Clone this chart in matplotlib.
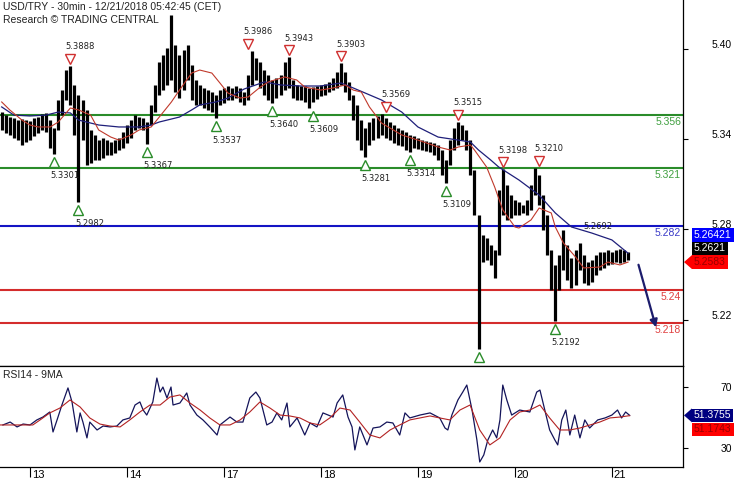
import numpy as np
import matplotlib
matplotlib.use('Agg')
import matplotlib.pyplot as plt
from matplotlib.transforms import offset_copy, ScaledTranslation
from matplotlib.patches import Polygon

# --- dados (precos, barras de 1h, horas de pregao a partir de 13/12 00:00) ---
bar_hi = [5.3579, 5.3559, 5.3546, 5.3540, 5.3526, 5.3533, 5.3526, 5.3520, 5.3540, 5.3546,
          5.3566, 5.3573, 5.3526, 5.3473, 5.3659, 5.3725, 5.3858, 5.3888, 5.3759, 5.3692,
          5.3659, 5.3593, 5.3460, 5.3427, 5.3393, 5.3407, 5.3393, 5.3380, 5.3393, 5.3407,
          5.3447, 5.3493, 5.3526, 5.3559, 5.3546, 5.3540, 5.3513, 5.3626, 5.3759, 5.3911,
          5.3958, 5.4004, 5.4223, 5.4024, 5.3958, 5.3991, 5.4024, 5.3891, 5.3792, 5.3759,
          5.3739, 5.3725, 5.3712, 5.3692, 5.3725, 5.3739, 5.3752, 5.3739, 5.3752, 5.3739,
          5.3712, 5.3825, 5.3986, 5.3938, 5.3911, 5.3858, 5.3825, 5.3792, 5.3805, 5.3825,
          5.3911, 5.3943, 5.3792, 5.3759, 5.3752, 5.3752, 5.3739, 5.3745, 5.3752, 5.3759,
          5.3765, 5.3779, 5.3805, 5.3845, 5.3903, 5.3845, 5.3779, 5.3692, 5.3626, 5.3526,
          5.3473, 5.3513, 5.3540, 5.3553, 5.3569, 5.3540, 5.3513, 5.3493, 5.3473, 5.3460,
          5.3447, 5.3427, 5.3420, 5.3407, 5.3393, 5.3387, 5.3380, 5.3374, 5.3360, 5.3327,
          5.3261, 5.3393, 5.3473, 5.3515, 5.3493, 5.3460, 5.3393, 5.3194, 5.2896, 5.2763,
          5.2743, 5.2697, 5.2663, 5.3062, 5.3198, 5.3095, 5.3028, 5.2995, 5.2982, 5.2962,
          5.2995, 5.3095, 5.3210, 5.3161, 5.3028, 5.2896, 5.2663, 5.2564, 5.2630, 5.2796,
          5.2697, 5.2610, 5.2663, 5.2710, 5.2630, 5.2583, 5.2597, 5.2630, 5.2650, 5.2650,
          5.2663, 5.2650, 5.2663, 5.2670, 5.2663, 5.2650]
bar_lo = [5.3460, 5.3440, 5.3427, 5.3407, 5.3393, 5.3360, 5.3380, 5.3393, 5.3420, 5.3440,
          5.3460, 5.3447, 5.3340, 5.3301, 5.3460, 5.3559, 5.3659, 5.3626, 5.3427, 5.2982,
          5.3393, 5.3227, 5.3241, 5.3261, 5.3261, 5.3274, 5.3294, 5.3294, 5.3307, 5.3327,
          5.3340, 5.3374, 5.3407, 5.3460, 5.3473, 5.3460, 5.3367, 5.3493, 5.3579, 5.3692,
          5.3725, 5.3759, 5.3792, 5.3712, 5.3672, 5.3725, 5.3792, 5.3659, 5.3626, 5.3626,
          5.3606, 5.3593, 5.3579, 5.3537, 5.3626, 5.3639, 5.3659, 5.3659, 5.3672, 5.3646,
          5.3626, 5.3659, 5.3759, 5.3792, 5.3739, 5.3692, 5.3659, 5.3640, 5.3672, 5.3692,
          5.3725, 5.3739, 5.3672, 5.3659, 5.3659, 5.3646, 5.3609, 5.3646, 5.3666, 5.3686,
          5.3692, 5.3712, 5.3725, 5.3739, 5.3759, 5.3712, 5.3659, 5.3526, 5.3393, 5.3327,
          5.3281, 5.3360, 5.3393, 5.3407, 5.3427, 5.3407, 5.3393, 5.3374, 5.3360, 5.3354,
          5.3327, 5.3314, 5.3340, 5.3334, 5.3327, 5.3320, 5.3314, 5.3294, 5.3261, 5.3161,
          5.3109, 5.3227, 5.3327, 5.3360, 5.3393, 5.3327, 5.3161, 5.2896, 5.2006, 5.2583,
          5.2597, 5.2564, 5.2477, 5.2630, 5.2896, 5.2863, 5.2876, 5.2896, 5.2896, 5.2909,
          5.2896, 5.2929, 5.3028, 5.2962, 5.2796, 5.2630, 5.2398, 5.2192, 5.2398, 5.2531,
          5.2464, 5.2411, 5.2431, 5.2531, 5.2444, 5.2431, 5.2451, 5.2497, 5.2531, 5.2544,
          5.2564, 5.2570, 5.2583, 5.2577, 5.2583, 5.2597]
bar_hours = np.arange(-7, -7 + len(bar_hi))

# medias moveis
ma_red_h = [-7, -5, -2, 0, 2, 5, 7, 10, 12, 15, 17, 20, 22, 25, 27, 30, 32, 35, 37, 40,
            42, 45, 47, 49, 52, 54, 57, 59, 63, 66, 68, 72, 75, 78, 80, 82, 84, 87, 92, 96,
            101, 104, 106, 109, 110, 113, 115, 117, 120, 121, 124, 126, 129, 130, 132, 135,
            137, 141, 143, 146, 148]
ma_red = [5.3646, 5.3593, 5.3526, 5.3493, 5.3480, 5.3480, 5.3513, 5.3606, 5.3593, 5.3559,
          5.3460, 5.3413, 5.3393, 5.3427, 5.3460, 5.3480, 5.3546, 5.3646, 5.3725, 5.3838,
          5.3858, 5.3838, 5.3772, 5.3705, 5.3672, 5.3679, 5.3745, 5.3779, 5.3812, 5.3792,
          5.3745, 5.3725, 5.3739, 5.3759, 5.3725, 5.3712, 5.3613, 5.3506, 5.3427, 5.3393,
          5.3347, 5.3327, 5.3347, 5.3360, 5.3327, 5.3214, 5.3081, 5.2929, 5.2816, 5.2809,
          5.2863, 5.2942, 5.2909, 5.2816, 5.2710, 5.2617, 5.2544, 5.2550, 5.2583, 5.2564,
          5.2583]
ma_blue_h = [-7, -4, 0, 4, 7, 10, 12, 17, 22, 27, 30, 32, 37, 40, 42, 46, 49, 53, 58, 62,
             67, 72, 77, 80, 87, 92, 96, 101, 106, 109, 111, 114, 116, 121, 126, 130, 134,
             139, 144, 148]
ma_blue = [5.3613, 5.3559, 5.3553, 5.3559, 5.3579, 5.3573, 5.3526, 5.3493, 5.3480, 5.3480,
           5.3493, 5.3513, 5.3546, 5.3593, 5.3626, 5.3646, 5.3672, 5.3732, 5.3779, 5.3759,
           5.3752, 5.3752, 5.3772, 5.3739, 5.3659, 5.3579, 5.3480, 5.3413, 5.3393, 5.3380,
           5.3327, 5.3261, 5.3214, 5.3128, 5.3028, 5.2909, 5.2816, 5.2776, 5.2730, 5.2642]

# RSI14 e media de 9
rsi_h = [-6.7, -4.9, -3.2, -1.7, 0, 1.7, 3.2, 4.9, 5.7, 6.7, 7.9, 9.4, 10.4, 11.6, 12.4,
         13.1, 14.1, 14.8, 16.6, 18.1, 19.8, 21.5, 23.0, 24.7, 26.0, 27.2, 28.0, 28.9, 30.4,
         31.4, 32.2, 32.9, 33.9, 34.9, 35.4, 37.1, 38.8, 39.6, 41.3, 42.8, 44.5, 46.3, 47.0,
         49.5, 51.2, 52.7, 54.4, 55.9, 56.9, 58.6, 59.9, 61.1, 62.3, 63.6, 64.3, 66.1, 68.0,
         69.3, 71.0, 72.5, 75.0, 76.0, 77.4, 78.7, 79.7, 80.4, 81.6, 83.4, 84.9, 86.6, 88.3,
         89.8, 91.5, 92.8, 94.0, 96.5, 99.0, 101.4, 102.7, 103.4, 104.4, 105.9, 107.1, 108.1,
         109.4, 110.6, 111.3, 112.3, 113.3, 114.5, 115.5, 116.3, 117.0, 118.0, 119.2, 121.2,
         123.7, 125.4, 126.2, 127.4, 128.6, 129.9, 130.6, 131.6, 132.6, 133.6, 134.8, 136.1,
         137.3, 138.5, 140.5, 142.3, 144.0, 145.4, 146.4, 147.4, 148.4]
rsi = [45.1, 47.0, 43.8, 45.7, 45.1, 48.4, 50.3, 53.6, 40.5, 48.4, 58.2, 69.4, 60.2, 40.5,
       53.0, 47.0, 36.6, 47.0, 41.8, 44.4, 43.8, 44.4, 48.4, 49.7, 58.2, 60.2, 54.9, 51.6,
       60.2, 75.9, 66.7, 70.0, 62.8, 70.0, 58.2, 59.5, 66.1, 58.2, 51.6, 48.4, 43.8, 38.5,
       45.1, 50.3, 47.0, 47.0, 62.8, 66.7, 62.8, 45.1, 47.0, 53.0, 48.4, 59.5, 43.8, 49.7,
       38.5, 46.4, 43.8, 53.0, 50.3, 59.5, 64.8, 50.3, 43.8, 28.7, 43.8, 32.0, 43.1, 43.8,
       47.0, 46.4, 38.5, 53.0, 49.7, 51.6, 53.0, 49.7, 43.1, 41.8, 51.6, 61.5, 66.7, 71.3,
       54.9, 35.2, 20.8, 25.4, 35.2, 41.8, 36.6, 48.4, 71.3, 61.5, 51.6, 54.9, 53.6, 66.7,
       68.0, 54.9, 41.8, 35.2, 32.0, 48.4, 54.9, 38.5, 51.6, 36.6, 48.4, 43.1, 48.4, 49.7,
       51.6, 54.9, 49.7, 53.6, 51.4]
rsi_ma_h = [-7.4, 0.7, 2.5, 4.9, 7.4, 9.9, 12.4, 14.8, 17.3, 19.8, 22.3, 24.7, 27.2, 29.7,
            32.2, 34.6, 37.1, 39.6, 42.1, 44.5, 47.0, 49.5, 52.0, 54.4, 56.9, 59.4, 61.9,
            64.3, 66.8, 69.3, 71.7, 74.2, 76.7, 79.2, 81.6, 84.1, 86.6, 89.1, 91.5, 94.0,
            96.5, 99.0, 101.4, 103.9, 106.4, 108.9, 111.3, 113.8, 116.3, 118.8, 121.2, 123.7,
            126.2, 128.6, 131.1, 133.6, 136.1, 138.6, 141.0, 143.5, 146.0, 148.4]
rsi_ma = [45.1, 45.1, 48.4, 53.0, 56.2, 61.5, 56.9, 49.7, 45.7, 44.4, 43.8, 48.4, 53.6, 58.2,
          58.2, 63.4, 64.8, 59.5, 54.9, 49.7, 45.1, 45.1, 48.4, 53.6, 60.2, 56.2, 51.6, 51.0,
          49.7, 46.4, 45.1, 49.7, 56.2, 54.9, 47.0, 38.5, 36.6, 41.8, 45.1, 48.4, 49.7, 51.0,
          49.7, 48.4, 54.9, 58.2, 41.8, 32.0, 36.6, 48.4, 53.6, 54.9, 58.2, 49.7, 41.8, 41.8,
          43.1, 45.1, 47.0, 49.7, 50.3, 51.2]

# topos e fundos marcados
tops_h = [10, 54, 64, 77, 88, 106, 117, 126]
tops = [5.3888, 5.3986, 5.3943, 5.3903, 5.3569, 5.3515, 5.3198, 5.3210]
bottoms_h = [6, 12, 29, 46, 60, 70, 83, 94, 103, 111, 130]
bottoms = [5.3301, 5.2982, 5.3367, 5.3537, 5.3640, 5.3609, 5.3281, 5.3314, 5.3109, 5.2006, 5.2192]
bottom_labels = ['5.3301', '5.2982', '5.3367', '5.3537', '5.3640', '5.3609', '5.3281',
                 '5.3314', '5.3109', '', '5.2192']
extra_top_h, extra_top = 138, 5.2692

# niveis horizontais
levels = [5.356, 5.321, 5.282, 5.24, 5.218]
level_labels = ['5.356', '5.321', '5.282', '5.24', '5.218']
level_colors = ['#2a8c2a', '#2a8c2a', '#1414c4', '#d42c2c', '#d42c2c']
level_text_colors = ['#3f9f3f', '#3f9f3f', '#3a3ac8', '#e04040', '#e04040']

# seta de projecao
seta_h = [150.4, 155.1]
seta_p = [5.2583, 5.2132]

days = [0, 24, 48, 72, 96, 120, 144]
day_labels = ['13', '14', '17', '18', '19', '20', '21']

W, H = 735, 480
fig = plt.figure(figsize=(W / 100, H / 100), dpi=100)
ax = fig.add_axes([0, 1 - 366 / H, 683 / W, 366 / H])
ax2 = fig.add_axes([0, 1 - 467 / H, 683 / W, 101 / H])

xmin, xmax = -7.42, 161.6
ax.set_xlim(xmin, xmax)
ax.set_ylim(5.1893, 5.4323)
ax2.set_xlim(xmin, xmax)
ax2.set_ylim(17.5, 83.8)

# niveis
for v, lab, c, tc in zip(levels, level_labels, level_colors, level_text_colors):
    ax.axhline(v, color=c, lw=1.5, zorder=1)
    ax.annotate(lab, xy=(1, v), xycoords=('axes fraction', 'data'), xytext=(-2, -7),
                textcoords='offset pixels', ha='right', va='center', color=tc,
                fontsize=7.5, family='Liberation Sans')

# barras
ax.vlines(bar_hours, bar_lo, bar_hi, color='black', lw=2.3, zorder=3)
ax.plot(ma_blue_h, ma_blue, color='#1f1f7a', lw=0.9, zorder=4)
ax.plot(ma_red_h, ma_red, color='#c0392b', lw=0.8, zorder=4)

# marcadores
up = offset_copy(ax.transData, fig=fig, x=0, y=7, units='dots')
up_t = offset_copy(ax.transData, fig=fig, x=10, y=19, units='dots')
dn = offset_copy(ax.transData, fig=fig, x=0, y=-8, units='dots')
dn_t = offset_copy(ax.transData, fig=fig, x=11, y=-22, units='dots')
ax.plot(tops_h, tops, ls='none', marker='v', ms=6.5, mfc='white', mec='#d03030', mew=1,
        transform=up, zorder=5)
for h, p in zip(tops_h, tops):
    ax.text(h, p, '%.4f' % p, transform=up_t, ha='center', va='center', fontsize=6,
            color='#222222', zorder=6)
ax.text(extra_top_h, extra_top, '%.4f' % extra_top, transform=up_t, ha='center',
        va='center', fontsize=6, color='#222222', zorder=6)
ax.plot(bottoms_h, bottoms, ls='none', marker='^', ms=6.5, mfc='white', mec='#2a8c2a',
        mew=1, transform=dn, zorder=5)
for h, p, lab in zip(bottoms_h, bottoms, bottom_labels):
    ax.text(h, p, lab, transform=dn_t, ha='center', va='center', fontsize=6,
            color='#222222', zorder=6)

ax.annotate('', xy=(seta_h[1], seta_p[1]), xytext=(seta_h[0], seta_p[0]),
            arrowprops=dict(arrowstyle='-|>', color='#1c1c6c', lw=1.6, mutation_scale=11))

# RSI
ax2.plot(rsi_h, rsi, color='#14145a', lw=0.9)
ax2.plot(rsi_ma_h, rsi_ma, color='#b22222', lw=0.8)
ax2.text(3 / 683, 1 - 9 / 101, 'RSI14 - 9MA', transform=ax2.transAxes, ha='left',
         va='center', fontsize=7.5, family='Liberation Sans', color='#222222')

# eixos
for a in (ax, ax2):
    a.spines['left'].set_visible(False)
    for s in ('right', 'bottom', 'top'):
        a.spines[s].set_linewidth(0.9)
    a.yaxis.tick_right()
    a.tick_params(axis='y', length=3.6, width=0.8, pad=31.5, labelsize=7.5)
ax.spines['top'].set_visible(False)
ax.set_xticks([])
ax.set_yticks([5.22, 5.28, 5.34, 5.40])
ax.set_yticklabels(['5.22', '5.28', '5.34', '5.40'], family='Liberation Sans')
ax2.set_yticks([30, 70])
ax2.set_yticklabels(['30', '70'], family='Liberation Sans')
sobe = ScaledTranslation(0, 5 / 100, fig.dpi_scale_trans)
for a in (ax, ax2):
    for lab in a.get_yticklabels():
        lab.set_horizontalalignment('right')
for lab in ax.get_yticklabels():
    lab.set_transform(lab.get_transform() + sobe)
ax2.set_xticks(days)
ax2.set_xticklabels([])
ax2.tick_params(axis='x', direction='out', length=7, width=0.8)
for d, lab in zip(days, day_labels):
    ax2.annotate(lab, xy=(d, 0), xycoords=('data', 'axes fraction'), xytext=(2, -3),
                 textcoords='offset pixels', ha='left', va='top', fontsize=8,
                 family='Liberation Sans', annotation_clip=False)

# titulo
fig.text(3 / W, 1 - 7 / H, 'USD/TRY - 30min - 12/21/2018 05:42:45 (CET)', ha='left',
         va='center', fontsize=7.5, family='Liberation Sans', color='#222222')
fig.text(3 / W, 1 - 20 / H, 'Research \u00a9 TRADING CENTRAL', ha='left', va='center',
         fontsize=7.5, family='Liberation Sans', color='#222222')


# etiquetas de valor na direita
def etiqueta(a, valor, texto, fundo, cor, dy=0, seta=False):
    y = a.transData.transform((0, valor))[1] + dy
    fig.text(694 / W, y / H, texto, ha='left', va='center', color=cor, fontsize=7.5,
             family='Liberation Sans', zorder=10,
             bbox=dict(boxstyle='square,pad=0.18', fc=fundo, ec='none'))
    if seta:
        tri = Polygon([(684 / W, y / H), (692 / W, (y + 7) / H), (692 / W, (y - 7) / H)],
                      closed=True, fc=fundo, ec='none', transform=fig.transFigure)
        fig.add_artist(tri)


etiqueta(ax, 5.2583, '5.2583', '#ff0000', '#9a0000', 0, True)
etiqueta(ax, 5.2583, '5.2621', '#000000', 'white', 14)
etiqueta(ax, 5.2583, '5.26421', '#0000ff', 'white', 27)
etiqueta(ax2, 51.3755, '51.3755', '#000080', 'white', 0, True)
etiqueta(ax2, 51.3755, '51.1743', '#ff0000', '#9a0000', -14)

fig.savefig('out.png', dpi=100)
